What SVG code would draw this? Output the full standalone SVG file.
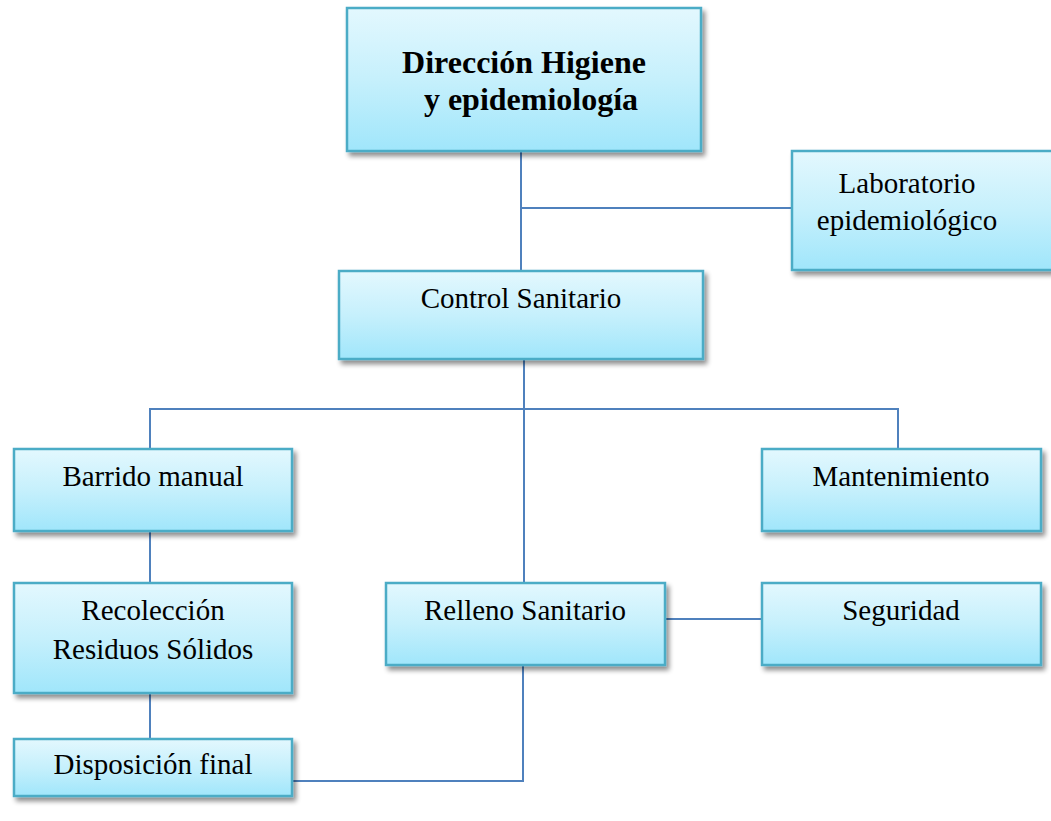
<svg xmlns="http://www.w3.org/2000/svg" width="1051" height="821" viewBox="0 0 1051 821">
<defs>
<linearGradient id="g" x1="0" y1="0" x2="0" y2="1">
<stop offset="0" stop-color="#e3f8fe"/>
<stop offset="0.5" stop-color="#c6f0fc"/>
<stop offset="1" stop-color="#a0e6fb"/>
</linearGradient>
<filter id="sh" x="-10%" y="-10%" width="125%" height="135%">
<feGaussianBlur in="SourceAlpha" stdDeviation="2.5"/>
<feOffset dx="3" dy="4" result="b"/>
<feComponentTransfer><feFuncA type="linear" slope="0.45"/></feComponentTransfer>
<feMerge><feMergeNode/><feMergeNode in="SourceGraphic"/></feMerge>
</filter>
</defs>
<style>
.box{fill:url(#g);stroke:#4bacc6;stroke-width:2.5;filter:url(#sh)}
.t{font-family:"Liberation Serif","Times New Roman",serif;font-size:29px;fill:#000;text-anchor:middle}
.b{font-weight:bold;font-size:32px}
.c{fill:none;stroke:#4f81bd;stroke-width:2}
</style>
<rect width="1051" height="821" fill="#fff"/>
<g id="connectors">
<path class="c" d="M521 151 V271"/>
<path class="c" d="M521 208 H792"/>
<path class="c" d="M524 359 V583"/>
<path class="c" d="M150 449 V409 H898 V449"/>
<path class="c" d="M150 531 V583"/>
<path class="c" d="M150 693 V739"/>
<path class="c" d="M665 619 H762"/>
<path class="c" d="M523 665 V781 H292"/>
</g>
<g id="n-direccion">
<rect class="box" x="347" y="8" width="354" height="143"/>
<text class="t b" x="524" y="73">Dirección Higiene</text>
<text class="t b" x="531" y="110">y epidemiología</text>
</g>
<g id="n-laboratorio">
<rect class="box" x="792" y="151" width="270" height="119"/>
<text class="t" x="907" y="193">Laboratorio</text>
<text class="t" x="907" y="230">epidemiológico</text>
</g>
<g id="n-control">
<rect class="box" x="339" y="271" width="364" height="88"/>
<text class="t" x="521" y="308">Control Sanitario</text>
</g>
<g id="n-barrido">
<rect class="box" x="14" y="449" width="278" height="82"/>
<text class="t" x="153" y="486">Barrido manual</text>
</g>
<g id="n-mantenimiento">
<rect class="box" x="762" y="449" width="279" height="82"/>
<text class="t" x="901" y="486">Mantenimiento</text>
</g>
<g id="n-recoleccion">
<rect class="box" x="14" y="583" width="278" height="110"/>
<text class="t" x="153" y="620">Recolección</text>
<text class="t" x="153" y="659">Residuos Sólidos</text>
</g>
<g id="n-relleno">
<rect class="box" x="386" y="583" width="279" height="82"/>
<text class="t" x="525" y="620">Relleno Sanitario</text>
</g>
<g id="n-seguridad">
<rect class="box" x="762" y="583" width="279" height="82"/>
<text class="t" x="901" y="620">Seguridad</text>
</g>
<g id="n-disposicion">
<rect class="box" x="14" y="739" width="278" height="57"/>
<text class="t" x="153" y="774">Disposición final</text>
</g>
</svg>
